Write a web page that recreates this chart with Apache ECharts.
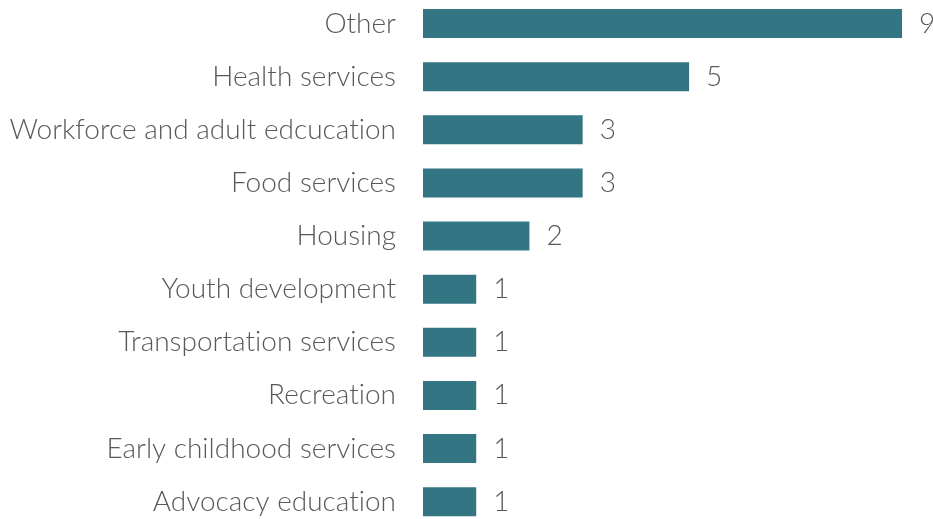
<!DOCTYPE html>
<html>
<head>
<meta charset="utf-8">
<script src="https://cdn.jsdelivr.net/npm/echarts@6/dist/echarts.min.js"></script>
<style>
  html, body { margin: 0; padding: 0; background: #fff; }
  #chart { width: 933px; height: 519px; }
</style>
</head>
<body>
<div id="chart"></div>
<script>
// Service categories, listed top to bottom
const categories = [
  'Other',
  'Health services',
  'Workforce and adult edcucation',
  'Food services',
  'Housing',
  'Youth development',
  'Transportation services',
  'Recreation',
  'Early childhood services',
  'Advocacy education'
];
// Number of programs per category
const counts = [9, 5, 3, 3, 2, 1, 1, 1, 1, 1];

const textColor = '#595959';
const fontFamily = 'Lato, "Open Sans", sans-serif';

// Draw text without typographic ligatures (keeps "ti" as two glyphs)
const baseGetContext = HTMLCanvasElement.prototype.getContext;
HTMLCanvasElement.prototype.getContext = function (type, opts) {
  const ctx = baseGetContext.call(this, type, opts);
  if (ctx && type === '2d' && 'textRendering' in ctx) {
    ctx.textRendering = 'optimizeSpeed';
  }
  return ctx;
};

const chart = echarts.init(document.getElementById('chart'), null, { renderer: 'canvas' });
chart.setOption({
  animation: false,
  // category ticks sit on the grid edges, so the first and last rows are centred on top/bottom
  grid: { left: 423, right: 31, top: 23.5, bottom: 17.3, containLabel: false },
  xAxis: {
    type: 'value',
    min: 0,
    max: 9,
    show: false
  },
  yAxis: {
    type: 'category',
    inverse: true,
    boundaryGap: false,
    data: categories,
    axisLine: { show: false },
    axisTick: { show: false },
    splitLine: { show: false },
    axisLabel: {
      margin: 27,
      color: textColor,
      fontFamily: fontFamily,
      fontWeight: 300,
      fontSize: 28
    }
  },
  series: [{
    type: 'bar',
    data: counts,
    barWidth: 29,
    itemStyle: { color: '#347584' },
    label: {
      show: true,
      position: 'right',
      distance: 17,
      color: textColor,
      fontFamily: fontFamily,
      fontWeight: 300,
      fontSize: 28
    }
  }]
});
</script>
</body>
</html>
